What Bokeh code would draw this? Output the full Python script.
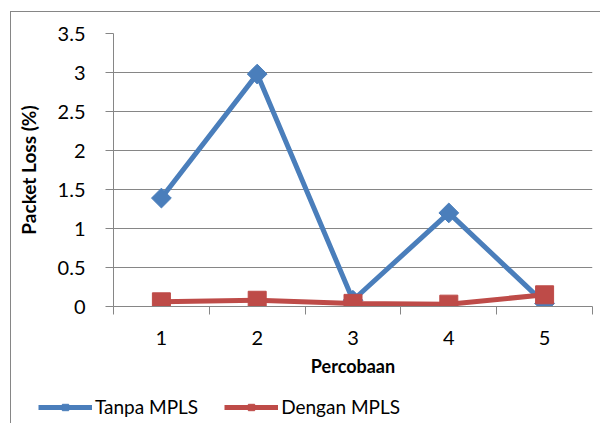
import math
from bokeh.plotting import figure
from bokeh.layouts import column
from bokeh.models import (FixedTicker, CustomJSTickFormatter, Legend, LegendItem,
                          Range1d, InlineStyleSheet)
from bokeh.embed import file_html
from bokeh.resources import INLINE

percobaan = [1, 2, 3, 4, 5]
tanpa_mpls = [1.39, 2.98, 0.08, 1.20, 0.04]
dengan_mpls = [0.06, 0.08, 0.04, 0.03, 0.15]
y_ticks = [0, 0.5, 1, 1.5, 2, 2.5, 3, 3.5]
x_bounds = [0.5, 1.5, 2.5, 3.5, 4.5, 5.5]
series_names = ["Tanpa MPLS", "Dengan MPLS"]

FONT = "Lato"
GRAY = "#868686"
BLUE = "#4A7EBB"
RED = "#BE4B48"
DIAMOND_ANGLE = math.pi / 4

p = figure(width=600, height=390, output_backend="svg", toolbar_location=None,
           x_range=Range1d(0.5, 5.5), y_range=Range1d(0, 3.5),
           min_border_left=113, min_border_right=8, min_border_top=33,
           min_border_bottom=84)
p.frame_align = False
p.outline_line_color = None
p.background_fill_color = "white"
p.border_fill_color = "white"

# grid
p.xgrid.grid_line_color = None
p.ygrid.grid_line_color = GRAY
p.ygrid.grid_line_width = 1
p.ygrid.ticker = FixedTicker(ticks=y_ticks)

# y axis
ya = p.yaxis[0]
ya.ticker = FixedTicker(ticks=y_ticks)
ya.formatter = CustomJSTickFormatter(code="return tick.toString()")
ya.axis_line_color = GRAY
ya.major_tick_line_color = GRAY
ya.major_tick_out = 8
ya.major_tick_in = 0
ya.minor_tick_line_color = None
ya.major_label_standoff = 20
ya.major_label_text_font = FONT
ya.major_label_text_font_size = "20px"
ya.major_label_text_color = "black"
ya.axis_label = "Packet Loss (%)"
ya.axis_label_text_font = FONT
ya.axis_label_text_font_style = "bold"
ya.axis_label_text_font_size = "19px"
ya.axis_label_text_color = "black"
ya.axis_label_standoff = 15

# x axis
xa = p.xaxis[0]
xa.ticker = FixedTicker(ticks=percobaan, minor_ticks=x_bounds)
xa.axis_line_color = GRAY
xa.major_tick_line_color = None
xa.major_tick_out = 8
xa.major_tick_in = 0
xa.minor_tick_line_color = GRAY
xa.minor_tick_out = 8
xa.minor_tick_in = 0
xa.major_label_standoff = 16
xa.major_label_text_font = FONT
xa.major_label_text_font_size = "20px"
xa.major_label_text_color = "black"
xa.axis_label = "Percobaan"
xa.axis_label_text_font = FONT
xa.axis_label_text_font_style = "bold"
xa.axis_label_text_font_size = "18px"
xa.axis_label_text_color = "black"
xa.axis_label_standoff = 7

# series
p.line(percobaan, tanpa_mpls, line_color=BLUE, line_width=5)
p.scatter(percobaan, tanpa_mpls, marker="square", angle=DIAMOND_ANGLE, size=14,
          fill_color=BLUE, line_color=BLUE)
p.line(percobaan, dengan_mpls, line_color=RED, line_width=5)
p.scatter(percobaan, dengan_mpls, marker="square", size=18,
          fill_color=RED, line_color=RED)

# legend strip below the chart (a second figure whose frame is the whole strip)
lg = figure(width=600, height=33, output_backend="svg", toolbar_location=None,
            x_range=Range1d(100, 101), y_range=Range1d(100, 101),
            x_axis_location=None, y_axis_location=None, min_border=0)
lg.frame_align = False
lg.grid.grid_line_color = None
lg.outline_line_color = None
lg.background_fill_color = "white"
lg.border_fill_color = "white"
k1 = lg.line(percobaan, tanpa_mpls, line_color=BLUE, line_width=5)
s1 = lg.scatter(percobaan, tanpa_mpls, marker="square", angle=DIAMOND_ANGLE,
                size=14, fill_color=BLUE, line_color=BLUE)
k2 = lg.line(percobaan, dengan_mpls, line_color=RED, line_width=5)
s2 = lg.scatter(percobaan, dengan_mpls, marker="square", size=18,
                fill_color=RED, line_color=RED)

legend = Legend(items=[LegendItem(label=series_names[0], renderers=[k1, s1]),
                       LegendItem(label=series_names[1], renderers=[k2, s2])],
                orientation="horizontal", location=(38, 5),
                glyph_width=54, glyph_height=16, label_standoff=3,
                spacing=26, padding=0, margin=0,
                border_line_color=None, background_fill_alpha=0,
                label_text_font=FONT, label_text_font_size="19px",
                label_text_color="black")
lg.add_layout(legend, "center")

# outer chart border (left and top edges are visible in the reference)
p.stylesheets = [InlineStyleSheet(css="""
:host { position: relative; }
:host::after {
  content: ''; position: absolute; left: 10px; top: 11px; right: 0; bottom: 0;
  border-left: 1.5px solid #868686; border-top: 1.5px solid #868686;
  pointer-events: none; z-index: 10;
}
""")]
lg.stylesheets = [InlineStyleSheet(css="""
:host { position: relative; }
:host::after {
  content: ''; position: absolute; left: 10px; top: 0; right: 0; bottom: 0;
  border-left: 1.5px solid #868686;
  pointer-events: none; z-index: 10;
}
""")]

layout = column(p, lg, spacing=0)
open("out.html", "w").write(file_html(layout, INLINE))
